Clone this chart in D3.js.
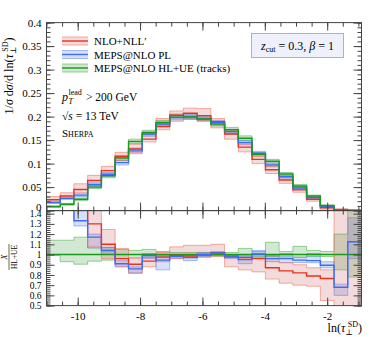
<!DOCTYPE html>
<html>
<head>
<meta charset="utf-8">
<script src="https://cdn.jsdelivr.net/npm/d3@7"></script>
<style>
	body { margin: 0; background: #fff; }
	text { font-family: "Liberation Serif", "DejaVu Serif", serif; fill: #000; }
	.tick line { stroke: #444; }
</style>
</head>
<body>
<svg id="chart" width="374" height="337"></svg>
<script>
// ---- data ----
var binEdges = [-11, -10.56, -10.12, -9.68, -9.24, -8.80, -8.37, -7.93, -7.49, -7.05, -6.61, -6.17,
	-5.73, -5.29, -4.85, -4.41, -3.98, -3.54, -3.10, -2.66, -2.22, -1.78, -1.34, -0.90];

// top panel: 1/sigma dsigma/dln(tau)
var nloNll   = [0.023, 0.031, 0.045, 0.064, 0.085, 0.115, 0.131, 0.152, 0.179, 0.203, 0.207, 0.202,
	0.189, 0.163, 0.135, 0.109, 0.087, 0.065, 0.044, 0.024, 0.006, 0.0, 0.0];
var nloNllLo = [0.018, 0.025, 0.038, 0.056, 0.077, 0.106, 0.124, 0.146, 0.172, 0.190, 0.194, 0.192,
	0.176, 0.152, 0.125, 0.100, 0.079, 0.058, 0.039, 0.020, 0.003, 0.0, 0.0];
var nloNllHi = [0.030, 0.038, 0.057, 0.075, 0.094, 0.124, 0.142, 0.164, 0.196, 0.212, 0.218, 0.217,
	0.196, 0.170, 0.142, 0.115, 0.094, 0.072, 0.049, 0.028, 0.010, 0.004, 0.002];
var mepsPl    = [0.017, 0.026, 0.033, 0.055, 0.077, 0.102, 0.127, 0.163, 0.184, 0.198, 0.200, 0.195,
	0.187, 0.168, 0.145, 0.122, 0.097, 0.072, 0.048, 0.028, 0.0085, 0.001, 0.0004];
var mepsPlErr = [0.002, 0.002, 0.003, 0.004, 0.004, 0.005, 0.006, 0.005, 0.005, 0.005, 0.005, 0.005,
	0.005, 0.005, 0.005, 0.004, 0.004, 0.003, 0.003, 0.002, 0.001, 0.001, 0.0005];
var mepsHl    = [0.0085, 0.0135, 0.024, 0.050, 0.074, 0.112, 0.147, 0.166, 0.187, 0.2015, 0.199, 0.195,
	0.184, 0.172, 0.154, 0.120, 0.105, 0.078, 0.0525, 0.031, 0.0107, 0.0015, 0.0003];
var mepsHlErr = [0.002, 0.002, 0.003, 0.003, 0.004, 0.005, 0.005, 0.005, 0.005, 0.004, 0.004, 0.004,
	0.004, 0.005, 0.005, 0.004, 0.004, 0.003, 0.003, 0.002, 0.001, 0.001, 0.0005];

// bottom panel: ratio to MEPS@NLO HL+UE (null = off the plot)
var ratioNll   = [2.7, 2.3, 1.9, 1.30, 1.10, 0.96, 0.905, 0.935, 0.975, 0.99, 0.985, 0.995,
	1.015, 0.975, 0.97, 0.96, 0.87, 0.84, 0.82, 0.79, 0.765, null, null];
var ratioNllLo = [2.0, 1.8, 1.5, 1.08, 0.96, 0.88, 0.815, 0.88, 0.93, 0.96, 0.97, 0.97,
	0.98, 0.88, 0.85, 0.83, 0.76, 0.72, 0.70, 0.69, 0.55, 0, 0];
var ratioNllHi = [3.5, 3.0, 2.4, 1.6, 1.245, 1.06, 0.96, 0.99, 1.02, 1.075, 1.09, 1.09,
	1.10, 0.995, 0.99, 0.965, 1.0, 0.92, 0.90, 0.87, 0.85, 3, 3];
var ratioPl    = [2.0, 1.9, 1.33, 1.17, 1.04, 0.91, 0.86, 0.99, 0.945, 0.98, 0.97, 1.0,
	1.015, 0.985, 0.95, 1.005, 0.96, 0.96, 0.945, 0.94, 0.895, 0.68, 1.125];
var ratioPlLo  = [1.7, 1.6, 1.28, 1.065, 1.0, 0.88, 0.82, 0.96, 0.85, 0.96, 0.94, 0.98,
	0.99, 0.96, 0.91, 0.97, 0.93, 0.92, 0.92, 0.92, 0.87, 0.60, 0.96];
var ratioPlHi  = [2.4, 2.2, 1.55, 1.2, 1.07, 0.94, 0.88, 1.01, 0.99, 1.0, 0.99, 1.02,
	1.03, 1.0, 0.98, 1.04, 0.99, 1.01, 0.97, 1.01, 0.93, 0.71, 1.36];
var ratioHl    = [1, 1, 1, 1, 1, 1, 1, 1, 1, 1, 1, 1, 1, 1, 1, 1, 1, 1, 1, 1, 1, 1, 1];
var ratioHlLo  = [0.99, 0.93, 0.905, 0.935, 0.945, 0.96, 0.97, 0.97, 0.98, 0.985, 0.985, 0.985,
	0.985, 0.98, 0.97, 0.98, 0.98, 0.975, 0.975, 0.98, 0.98, 0.85, 0.78];
var ratioHlHi  = [1.14, 1.14, 1.17, 1.065, 1.07, 1.05, 1.04, 1.05, 1.03, 1.02, 1.02, 1.02,
	1.02, 1.02, 1.06, 1.03, 1.12, 1.03, 1.08, 1.04, 1.03, 1.2, 1.6];

var xTicksMajor = [-10, -8, -6, -4, -2];
var legendNames = ["NLO+NLL\u2032", "MEPS@NLO PL", "MEPS@NLO HL+UE (tracks)"];

// colours: line, band fill, band edge
var colours = [
	{line: "#e8321e", fill: "rgba(200,90,90,0.22)", edge: "rgba(240,110,90,0.55)"},
	{line: "#3a6ef0", fill: "rgba(70,110,235,0.22)", edge: "rgba(90,130,245,0.5)"},
	{line: "#1a9a1a", fill: "rgba(50,150,50,0.22)", edge: "rgba(60,170,60,0.5)"}
];

var svg = d3.select("#chart");
var left = 46.5, right = 361.5, topY = 22.6, midY = 210.6, botY = 305.6;

var x = d3.scaleLinear().domain([-11, -0.9]).range([left, right]);
var yTop = d3.scaleLinear().domain([0, 0.4]).range([midY, topY]);
var yRat = d3.scaleLinear().domain([0.5, 1.43]).range([botY, midY]);

var defs = svg.append("defs");
defs.append("clipPath").attr("id", "clipTop").append("rect")
	.attr("x", left).attr("y", topY).attr("width", right - left).attr("height", midY - topY);
defs.append("clipPath").attr("id", "clipRat").append("rect")
	.attr("x", left).attr("y", midY).attr("width", right - left).attr("height", botY - midY);

// step helpers
function stepPts(vals) {
	var pts = [];
	vals.forEach(function(v, i) {
		pts.push({x: binEdges[i], v: v});
		pts.push({x: binEdges[i + 1], v: v});
	});
	return pts;
}
function bandPts(lo, hi) {
	var pts = [];
	lo.forEach(function(l, i) {
		pts.push({x: binEdges[i], lo: l, hi: hi[i]});
		pts.push({x: binEdges[i + 1], lo: l, hi: hi[i]});
	});
	return pts;
}

function drawSeries(g, y, val, lo, hi, col) {
	var area = d3.area().x(function(d) { return x(d.x); })
		.y0(function(d) { return y(d.lo); }).y1(function(d) { return y(d.hi); });
	var line = d3.line().defined(function(d) { return d.v !== null; })
		.x(function(d) { return x(d.x); }).y(function(d) { return y(d.v); });
	g.append("path").attr("d", area(bandPts(lo, hi))).attr("fill", col.fill);
	g.append("path").attr("d", line(stepPts(lo))).attr("fill", "none").attr("stroke", col.edge).attr("stroke-width", 1);
	g.append("path").attr("d", line(stepPts(hi))).attr("fill", "none").attr("stroke", col.edge).attr("stroke-width", 1);
	return function() {
		g.append("path").attr("d", line(stepPts(val))).attr("fill", "none")
			.attr("stroke", col.line).attr("stroke-width", 1.4);
	};
}

// ---- top panel ----
var gTop = svg.append("g").attr("clip-path", "url(#clipTop)");
var lo1 = mepsPl.map(function(v, i) { return v - mepsPlErr[i]; });
var hi1 = mepsPl.map(function(v, i) { return v + mepsPlErr[i]; });
var lo2 = mepsHl.map(function(v, i) { return v - mepsHlErr[i]; });
var hi2 = mepsHl.map(function(v, i) { return v + mepsHlErr[i]; });
var t2 = drawSeries(gTop, yTop, mepsHl, lo2, hi2, colours[2]);
var t1 = drawSeries(gTop, yTop, mepsPl, lo1, hi1, colours[1]);
var t0 = drawSeries(gTop, yTop, nloNll, nloNllLo, nloNllHi, colours[0]);
t0(); t1(); t2();

// ---- ratio panel ----
var gRat = svg.append("g").attr("clip-path", "url(#clipRat)");
var r2 = drawSeries(gRat, yRat, ratioHl, ratioHlLo, ratioHlHi, colours[2]);
var r1 = drawSeries(gRat, yRat, ratioPl, ratioPlLo, ratioPlHi, colours[1]);
var r0 = drawSeries(gRat, yRat, ratioNll, ratioNllLo, ratioNllHi, colours[0]);
r2(); r0(); r1();

// ---- axes ----
function fmt(d) { return +d.toFixed(2); }
function noDomain(g) { g.select(".domain").remove(); }
var xMinor = d3.range(-11, -0.89, 0.5);

function addX(yPos, dir, withLabels) {
	var mk = dir === "top" ? d3.axisTop : d3.axisBottom;
	svg.append("g").attr("transform", "translate(0," + yPos + ")")
		.call(mk(x).tickValues(xMinor).tickSize(-4).tickFormat("")).call(noDomain);
	var a = mk(x).tickValues(xTicksMajor).tickSize(-8).tickPadding(6.5)
		.tickFormat(withLabels ? function(d) { return d; } : "");
	svg.append("g").attr("transform", "translate(0," + yPos + ")")
		.call(a).call(noDomain).selectAll("text").attr("font-size", 11);
}
addX(topY, "top", false);
addX(midY, "bottom", false);
addX(midY, "top", false);
addX(botY, "bottom", true);

function addY(y, major, minor, xPos, dir, withLabels, fs) {
	var mk = dir === "left" ? d3.axisLeft : d3.axisRight;
	svg.append("g").attr("transform", "translate(" + xPos + ",0)")
		.call(mk(y).tickValues(minor).tickSize(-4).tickFormat("")).call(noDomain);
	return svg.append("g").attr("transform", "translate(" + xPos + ",0)")
		.call(mk(y).tickValues(major).tickSize(-8).tickPadding(5).tickFormat(withLabels ? fmt : ""))
		.call(noDomain).selectAll("text").attr("font-size", fs);
}
var topMajor = d3.range(0, 0.4001, 0.05), topMinor = d3.range(0, 0.4001, 0.01);
var ratMajor = d3.range(0.5, 1.4001, 0.1), ratMinor = d3.range(0.5, 1.4301, 0.02);
var topLabels = addY(yTop, topMajor, topMinor, left, "left", true, 11);
addY(yTop, topMajor, topMinor, right, "right", false, 11);
addY(yRat, ratMajor, ratMinor, left, "left", true, 9.5);
addY(yRat, ratMajor, ratMinor, right, "right", false, 9.5);
// the "0" sits right on top of the "1.4" below it: lift it a little
topLabels.filter(function(d) { return d === 0; }).attr("dy", "0em");

// frames
svg.append("rect").attr("x", left).attr("y", topY).attr("width", right - left).attr("height", midY - topY)
	.attr("fill", "none").attr("stroke", "#444");
svg.append("rect").attr("x", left).attr("y", midY).attr("width", right - left).attr("height", botY - midY)
	.attr("fill", "none").attr("stroke", "#444");

// ---- legend ----
var leg = svg.append("g");
legendNames.forEach(function(name, i) {
	var yy = 41 + i * 13.5;
	var c = colours[i];
	leg.append("rect").attr("x", 62).attr("y", yy - 4).attr("width", 26).attr("height", 8).attr("fill", c.fill);
	[-4, 4].forEach(function(o) {
		leg.append("line").attr("x1", 62).attr("x2", 88).attr("y1", yy + o).attr("y2", yy + o)
			.attr("stroke", c.edge);
	});
	leg.append("line").attr("x1", 62).attr("x2", 88).attr("y1", yy).attr("y2", yy)
		.attr("stroke", c.line).attr("stroke-width", 1.4);
	leg.append("text").attr("x", 94).attr("y", yy + 4).attr("font-size", 11).text(name);
});

// annotations
svg.append("text").attr("x", 62).attr("y", 101).attr("font-size", 12).attr("font-style", "italic").text("p");
svg.append("text").attr("x", 68.5).attr("y", 95).attr("font-size", 8).text("lead");
svg.append("text").attr("x", 68.5).attr("y", 104).attr("font-size", 8).attr("font-style", "italic").text("T");
svg.append("text").attr("x", 86).attr("y", 101).attr("font-size", 11.5).text("> 200 GeV");

var ann2 = svg.append("text").attr("x", 62).attr("y", 120).attr("font-size", 11.5);
ann2.append("tspan").text("\u221A");
ann2.append("tspan").attr("font-style", "italic").text("s");
ann2.append("tspan").text(" = 13 TeV");

svg.append("text").attr("x", 62).attr("y", 137).attr("font-size", 11)
	.style("font-variant", "small-caps").text("Sherpa");

// parameter box
svg.append("rect").attr("x", 251.5).attr("y", 33.5).attr("width", 92).attr("height", 24)
	.attr("fill", "#eef0fb").attr("stroke", "#9fb0ea");
var box = svg.append("text").attr("x", 297.5).attr("y", 49.5).attr("font-size", 12).attr("text-anchor", "middle");
box.append("tspan").attr("font-style", "italic").text("z");
box.append("tspan").attr("font-size", 8).attr("dy", 2).text("cut");
box.append("tspan").attr("dy", -2).text(" = 0.3, ");
box.append("tspan").attr("font-style", "italic").text("\u03B2");
box.append("tspan").text(" = 1");

// y label, top panel
var yl = svg.append("text").attr("transform", "translate(13,76) rotate(-90)")
	.attr("text-anchor", "middle").attr("font-size", 12);
yl.append("tspan").text("1/");
yl.append("tspan").attr("font-style", "italic").text("\u03C3");
yl.append("tspan").text(" d");
yl.append("tspan").attr("font-style", "italic").text("\u03C3");
yl.append("tspan").text("/d ln(");
yl.append("tspan").attr("font-style", "italic").text("\u03C4");
yl.append("tspan").attr("font-size", 8).attr("dy", 3).text("\u22A5");
yl.append("tspan").attr("font-size", 8).attr("dx", -5).attr("dy", -8).text("SD");
yl.append("tspan").attr("dy", 5).text(")");

// y label, ratio panel
var rl = svg.append("g").attr("transform", "translate(9,257) rotate(-90)");
rl.append("text").attr("y", -1.7).attr("text-anchor", "middle").attr("font-size", 8).attr("font-style", "italic").text("X");
rl.append("line").attr("x1", -13).attr("x2", 13).attr("y1", 0).attr("y2", 0).attr("stroke", "#000").attr("stroke-width", 0.6);
rl.append("text").attr("y", 7.5).attr("text-anchor", "middle").attr("font-size", 7.5).text("HL+UE");

// x label
var xl = svg.append("text").attr("x", 362).attr("y", 332).attr("text-anchor", "end").attr("font-size", 12);
xl.append("tspan").text("ln(");
xl.append("tspan").attr("font-style", "italic").text("\u03C4");
xl.append("tspan").attr("font-size", 8).attr("dy", 3).text("\u22A5");
xl.append("tspan").attr("font-size", 8).attr("dx", -5).attr("dy", -8).text("SD");
xl.append("tspan").attr("dy", 5).text(")");
</script>
</body>
</html>
